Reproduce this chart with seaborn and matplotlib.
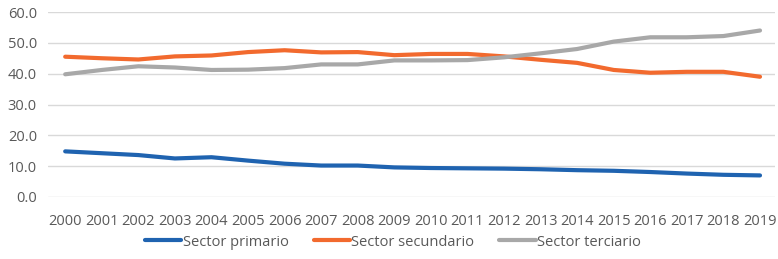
import matplotlib
matplotlib.use("Agg")
import matplotlib.pyplot as plt
import seaborn as sns
import pandas as pd

years = [str(y) for y in range(2000, 2020)]
primario = [14.8, 14.2, 13.6, 12.5, 12.9, 11.8, 10.8, 10.2, 10.2, 9.6,
            9.4, 9.3, 9.2, 9.0, 8.7, 8.5, 8.1, 7.6, 7.2, 7.0]
secundario = [45.5, 45.0, 44.6, 45.6, 45.9, 47.0, 47.6, 46.9, 47.0, 46.0,
              46.4, 46.4, 45.6, 44.5, 43.5, 41.2, 40.3, 40.6, 40.6, 39.0]
terciario = [39.8, 41.2, 42.4, 42.0, 41.2, 41.3, 41.8, 43.0, 43.0, 44.3,
             44.3, 44.4, 45.3, 46.6, 48.0, 50.4, 51.8, 51.8, 52.2, 54.0]
series_names = ["Sector primario", "Sector secundario", "Sector terciario"]
colors = ["#1F63B0", "#F26A2E", "#A8A8A8"]

df = pd.concat([
    pd.DataFrame({"year": years, "value": vals, "serie": name})
    for name, vals in zip(series_names, [primario, secundario, terciario])
])
df["x"] = df["year"].map({y: i for i, y in enumerate(years)})

sns.set_theme(style="white")
plt.rcParams["font.family"] = ["Open Sans", "DejaVu Sans"]

fig = plt.figure(figsize=(7.78, 2.59), dpi=100)
ax = fig.add_axes([48/778, 1-197/259, (775-48)/778, (197-12)/259])

sns.lineplot(data=df, x="x", y="value", hue="serie", palette=colors,
             hue_order=series_names, linewidth=3, ax=ax, legend=True)

ax.set_ylim(0, 60)
ax.set_yticks([0, 10, 20, 30, 40, 50, 60])
ax.set_yticklabels([f"{v:.1f}" for v in [0, 10, 20, 30, 40, 50, 60]])
ax.set_xticks(range(len(years)))
ax.set_xticklabels(years)
ax.set_xlim(-0.47, len(years) - 1 + 0.41)
ax.yaxis.grid(True, color="#D9D9D9", linewidth=1)
ax.set_axisbelow(True)
for s in ax.spines.values():
    s.set_visible(False)
ax.tick_params(axis="both", length=0, labelsize=10.5, colors="#595959")
ax.tick_params(axis="x", pad=12)
ax.tick_params(axis="y", pad=8)
ax.set_xlabel("")
ax.set_ylabel("")

handles, labels = ax.get_legend_handles_labels()
ax.get_legend().remove()
fig.legend(handles, labels, loc="center", bbox_to_anchor=(393/778, 1-242/259),
           ncol=3, frameon=False, fontsize=10.5, handlelength=2.5,
           handletextpad=0.1, columnspacing=1.7, labelcolor="#595959",
           borderaxespad=0, borderpad=0)

fig.savefig("out.png", dpi=100)
